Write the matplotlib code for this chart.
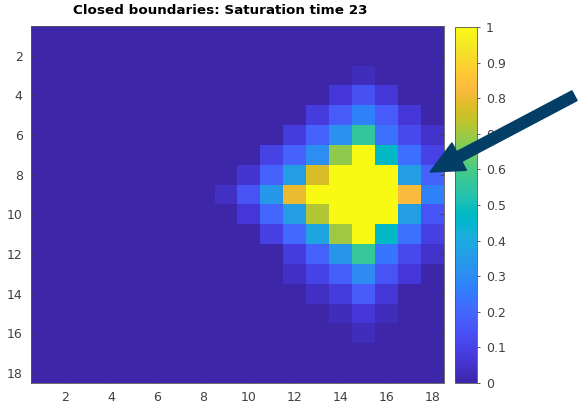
import numpy as np
import matplotlib
matplotlib.use("Agg")
import matplotlib.pyplot as plt
from matplotlib.colors import LinearSegmentedColormap
from matplotlib.patches import FancyArrow

# ----------------------------------------------------------------------
# saturation field, 18 x 18 grid (row 1 at the top)
SATURATION = [
    [0] * 18,
    [0] * 18,
    [0, 0, 0, 0, 0, 0, 0, 0, 0, 0, 0, 0, 0, 0, 0.03, 0, 0, 0],
    [0, 0, 0, 0, 0, 0, 0, 0, 0, 0, 0, 0, 0, 0.07, 0.14, 0.07, 0, 0],
    [0, 0, 0, 0, 0, 0, 0, 0, 0, 0, 0, 0, 0.08, 0.17, 0.27, 0.17, 0.07, 0],
    [0, 0, 0, 0, 0, 0, 0, 0, 0, 0, 0, 0.08, 0.19, 0.32, 0.56, 0.23, 0.12, 0.05],
    [0, 0, 0, 0, 0, 0, 0, 0, 0, 0, 0.10, 0.19, 0.31, 0.68, 1.0, 0.47, 0.22, 0.10],
    [0, 0, 0, 0, 0, 0, 0, 0, 0, 0.06, 0.19, 0.36, 0.77, 1.0, 1.0, 1.0, 0.36, 0.19],
    [0, 0, 0, 0, 0, 0, 0, 0, 0.04, 0.15, 0.34, 0.80, 1.0, 1.0, 1.0, 1.0, 0.83, 0.27],
    [0, 0, 0, 0, 0, 0, 0, 0, 0, 0.07, 0.20, 0.36, 0.72, 1.0, 1.0, 1.0, 0.36, 0.15],
    [0, 0, 0, 0, 0, 0, 0, 0, 0, 0, 0.09, 0.21, 0.38, 0.70, 1.0, 0.47, 0.23, 0.09],
    [0, 0, 0, 0, 0, 0, 0, 0, 0, 0, 0, 0.08, 0.19, 0.33, 0.57, 0.24, 0.12, 0.05],
    [0, 0, 0, 0, 0, 0, 0, 0, 0, 0, 0, 0.04, 0.10, 0.18, 0.30, 0.15, 0.07, 0],
    [0, 0, 0, 0, 0, 0, 0, 0, 0, 0, 0, 0, 0.04, 0.08, 0.17, 0.07, 0, 0],
    [0, 0, 0, 0, 0, 0, 0, 0, 0, 0, 0, 0, 0, 0.03, 0.07, 0.03, 0, 0],
    [0, 0, 0, 0, 0, 0, 0, 0, 0, 0, 0, 0, 0, 0, 0.03, 0, 0, 0],
    [0] * 18,
    [0] * 18,
]
TIME_STEP = 23
AXIS_TICKS = [2, 4, 6, 8, 10, 12, 14, 16, 18]
CBAR_TICKS = [0, 0.1, 0.2, 0.3, 0.4, 0.5, 0.6, 0.7, 0.8, 0.9, 1.0]
CBAR_LABELS = ["0", "0.1", "0.2", "0.3", "0.4", "0.5", "0.6", "0.7", "0.8", "0.9", "1"]

# MATLAB parula (64 samples)
PARULA = [
    [0.2422, 0.1504, 0.6603], [0.2504, 0.1650, 0.7076], [0.2578, 0.1818, 0.7511],
    [0.2647, 0.1978, 0.7952], [0.2706, 0.2147, 0.8364], [0.2751, 0.2342, 0.8710],
    [0.2783, 0.2559, 0.8991], [0.2803, 0.2782, 0.9221], [0.2813, 0.3006, 0.9414],
    [0.2810, 0.3228, 0.9579], [0.2795, 0.3447, 0.9717], [0.2760, 0.3667, 0.9829],
    [0.2699, 0.3892, 0.9906], [0.2602, 0.4123, 0.9952], [0.2440, 0.4358, 0.9988],
    [0.2206, 0.4603, 0.9973], [0.1963, 0.4847, 0.9892], [0.1834, 0.5074, 0.9798],
    [0.1786, 0.5289, 0.9682], [0.1764, 0.5499, 0.9520], [0.1687, 0.5703, 0.9359],
    [0.1540, 0.5902, 0.9218], [0.1460, 0.6091, 0.9079], [0.1380, 0.6276, 0.8973],
    [0.1248, 0.6459, 0.8883], [0.1113, 0.6635, 0.8763], [0.0952, 0.6798, 0.8598],
    [0.0689, 0.6948, 0.8394], [0.0297, 0.7082, 0.8163], [0.0036, 0.7203, 0.7917],
    [0.0067, 0.7312, 0.7660], [0.0433, 0.7411, 0.7394], [0.0964, 0.7500, 0.7120],
    [0.1408, 0.7584, 0.6842], [0.1717, 0.7670, 0.6554], [0.1938, 0.7758, 0.6251],
    [0.2161, 0.7843, 0.5923], [0.2470, 0.7918, 0.5567], [0.2906, 0.7973, 0.5188],
    [0.3406, 0.8008, 0.4789], [0.3909, 0.8029, 0.4354], [0.4456, 0.8024, 0.3909],
    [0.5044, 0.7993, 0.3480], [0.5616, 0.7942, 0.3045], [0.6174, 0.7876, 0.2612],
    [0.6720, 0.7793, 0.2227], [0.7242, 0.7698, 0.1910], [0.7738, 0.7598, 0.1646],
    [0.8203, 0.7498, 0.1535], [0.8634, 0.7406, 0.1596], [0.9035, 0.7330, 0.1774],
    [0.9393, 0.7288, 0.2100], [0.9728, 0.7298, 0.2394], [0.9956, 0.7434, 0.2371],
    [0.9970, 0.7659, 0.2199], [0.9952, 0.7893, 0.2028], [0.9892, 0.8136, 0.1885],
    [0.9786, 0.8386, 0.1766], [0.9676, 0.8639, 0.1643], [0.9610, 0.8890, 0.1537],
    [0.9597, 0.9135, 0.1423], [0.9628, 0.9373, 0.1265], [0.9691, 0.9606, 0.1064],
    [0.9769, 0.9839, 0.0805],
]
parula = LinearSegmentedColormap.from_list("parula", PARULA)

TXT = "#404040"
plt.rcParams.update({"font.family": "DejaVu Sans", "font.size": 9})

# ----------------------------------------------------------------------
fig = plt.figure(figsize=(5.78, 4.07), dpi=100)
ax = fig.add_axes([31 / 578, 24 / 407, 413 / 578, 357 / 407])
cax = fig.add_axes([455 / 578, 24 / 407, 22 / 578, 356 / 407])

sat = np.array(SATURATION)
n = sat.shape[0]
im = ax.imshow(sat, cmap=parula, vmin=0, vmax=1, interpolation="nearest",
               extent=[0.5, n + 0.5, n + 0.5, 0.5], aspect="auto")
ax.set_xticks(AXIS_TICKS)
ax.set_yticks(AXIS_TICKS)
ax.tick_params(direction="in", length=3, width=0.6, colors=TXT,
               top=True, right=True, labelsize=9, pad=6)
for s in ax.spines.values():
    s.set_color("#555555")
    s.set_linewidth(0.6)

# title sits a little left of the axes centre
fig.text(220 / 578, 1 - 11 / 407,
         f"Closed boundaries: Saturation time {TIME_STEP}",
         ha="center", va="center", fontsize=9.7, fontweight="bold")

cb = fig.colorbar(im, cax=cax, ticks=CBAR_TICKS)
cb.ax.set_yticklabels(CBAR_LABELS)
cb.ax.tick_params(direction="out", length=2.5, width=0.6, colors=TXT,
                  labelsize=9, pad=4)
cb.outline.set_edgecolor("#555555")
cb.outline.set_linewidth(0.6)

# callout arrow pointing at the right edge of the grid
arrow = FancyArrow(5.745, 3.113, -1.445, -0.763, width=0.11, head_width=0.31,
                   head_length=0.33, length_includes_head=True,
                   color="#023e66", transform=fig.dpi_scale_trans)
fig.add_artist(arrow)

fig.savefig("out.png", dpi=100)
